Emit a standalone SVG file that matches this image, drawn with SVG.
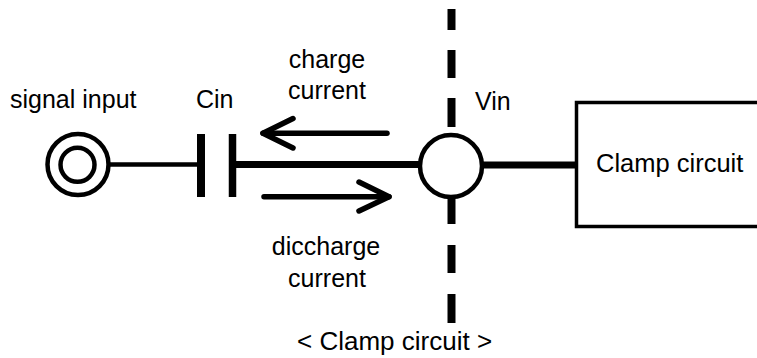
<svg xmlns="http://www.w3.org/2000/svg" width="757" height="358" viewBox="0 0 757 358">
<style>
text{font-family:"Liberation Sans",Arial,sans-serif;font-size:25px;fill:#000}
.w{stroke:#000;fill:none}
</style>
<rect width="757" height="358" fill="#fff"/>
<g id="connectors">
<line class="w" x1="110" y1="164.5" x2="198" y2="164.5" stroke-width="4.5"/>
<line class="w" x1="234" y1="164.5" x2="422" y2="164.5" stroke-width="7"/>
<line class="w" x1="480" y1="165" x2="578" y2="165" stroke-width="7"/>
<g id="boundary" stroke="#000" stroke-width="8">
<line x1="451.5" y1="9" x2="451.5" y2="30"/>
<line x1="451.5" y1="50" x2="451.5" y2="78"/>
<line x1="451.5" y1="98" x2="451.5" y2="127"/>
<line x1="451.5" y1="195" x2="451.5" y2="224"/>
<line x1="451.5" y1="245" x2="451.5" y2="273"/>
<line x1="451.5" y1="294" x2="451.5" y2="323"/>
</g>
<g id="charge-arrow" class="w" stroke-width="5.5" stroke-linecap="round" stroke-linejoin="round">
<line x1="263" y1="133.3" x2="387" y2="133.3"/>
<polyline points="293,118.5 263,133.3 293,148"/>
</g>
<g id="discharge-arrow" class="w" stroke-width="5.5" stroke-linecap="round" stroke-linejoin="round">
<line x1="264" y1="196.7" x2="389" y2="196.7"/>
<polyline points="359,182 389,196.7 359,211"/>
</g>
</g>
<g id="signal-input">
<circle cx="78" cy="164.5" r="30.5" fill="#fff" stroke="#000" stroke-width="4.5"/>
<circle cx="77.5" cy="164.8" r="17" fill="none" stroke="#000" stroke-width="4.5"/>
<text x="10" y="108">signal input</text>
</g>
<g id="cin">
<line x1="201" y1="134" x2="201" y2="197" stroke="#000" stroke-width="8"/>
<line x1="232.5" y1="134" x2="232.5" y2="197" stroke="#000" stroke-width="7.5"/>
<text x="196" y="108">Cin</text>
</g>
<g id="vin">
<circle cx="451" cy="166" r="31" fill="#fff" stroke="#000" stroke-width="4.5"/>
<text x="475" y="110">Vin</text>
</g>
<g id="clamp">
<rect x="576.5" y="102.5" width="200" height="124" fill="#fff" stroke="#000" stroke-width="3.5"/>
<text x="596" y="172" style="font-size:25.5px">Clamp circuit</text>
</g>
<g id="labels">
<text x="327" y="68" text-anchor="middle">charge</text>
<text x="327" y="99" text-anchor="middle">current</text>
<text x="326" y="255" text-anchor="middle">diccharge</text>
<text x="327" y="287" text-anchor="middle">current</text>
<text x="297" y="350" style="font-size:26px">&lt; Clamp circuit &gt;</text>
</g>
</svg>
